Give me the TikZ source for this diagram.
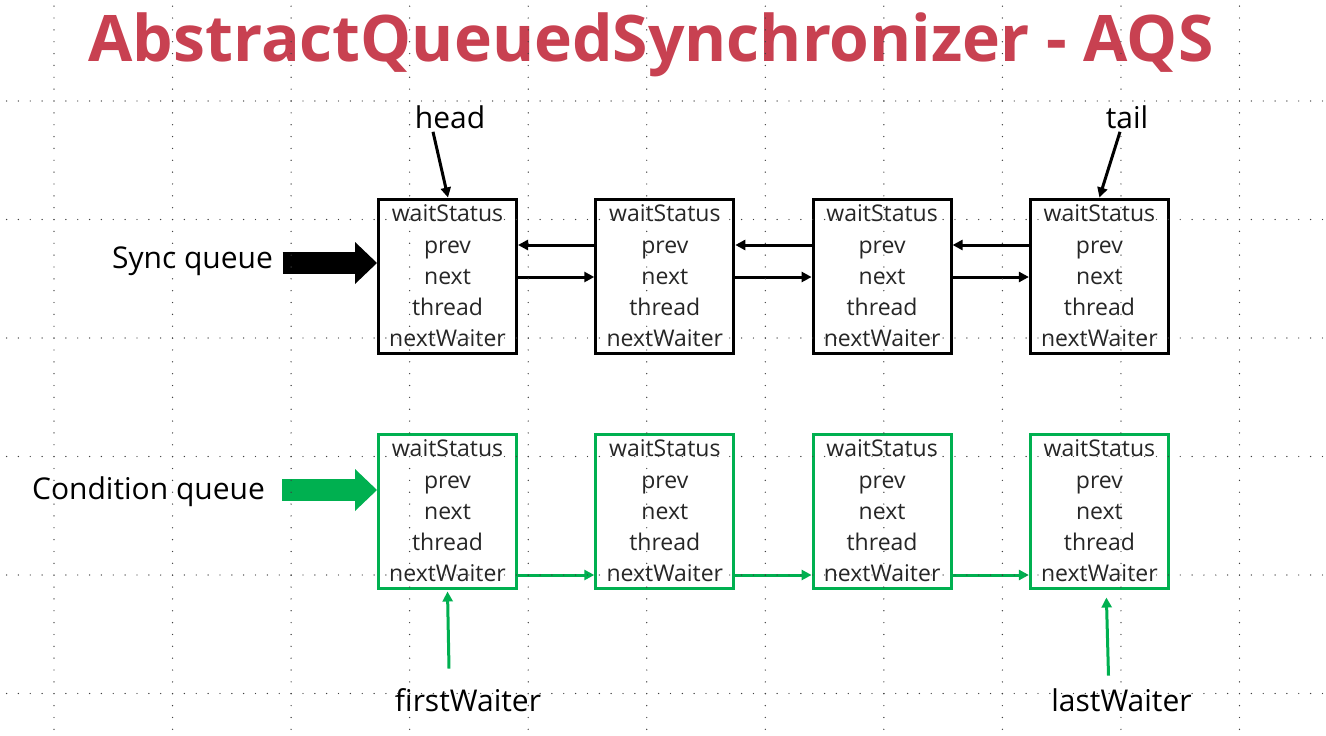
\documentclass[tikz,border=0pt]{standalone}
\usepackage{fontspec}
\setmainfont{Open Sans}
\usetikzlibrary{positioning}
\usetikzlibrary{arrows.meta}
\definecolor{aqsred}{RGB}{200,65,81}
\definecolor{aqsgreen}{RGB}{0,176,80}

\tikzset{
  field/.style={draw, line width=3pt, minimum width=138pt, minimum height=154pt,
    inner sep=0pt, align=center, text=black!85, font=\fontsize{23}{31.3}\selectfont},
  sync/.style={field, draw=black},
  cond/.style={field, draw=aqsgreen},
  lbl/.style={font=\fontsize{30}{36}\selectfont, anchor=base},
  ptr/.style={-{Triangle[length=10pt,width=10pt]}, line width=3pt},
  gptr/.style={ptr, color=aqsgreen},
  fat/.style={line width=22pt, -{Triangle[length=22pt,width=42pt,line width=0pt]}},
}
\newcommand{\aqsfields}{waitStatus\\prev\\next\\thread\\nextWaiter}

\begin{document}
\begin{tikzpicture}[x=1pt,y=-1pt,node distance=217.3pt,on grid]
   \path[fill=white,use as bounding box] (0,0) rectangle (1326,736);

   \node[font=\fontsize{64.2}{70}\selectfont\bfseries, text=aqsred, anchor=base] (title)
     at (651,61) {AbstractQueuedSynchronizer - AQS};

   % sync queue
   \node[sync] (s1) at (447.5,276) {\aqsfields};
   \node[sync] (s2) [right=of s1] {\aqsfields};
   \node[sync] (s3) [right=of s2] {\aqsfields};
   \node[sync] (s4) [right=of s3] {\aqsfields};
   % condition queue
   \node[cond] (c1) [below=235pt of s1] {\aqsfields};
   \node[cond] (c2) [right=of c1] {\aqsfields};
   \node[cond] (c3) [right=of c2] {\aqsfields};
   \node[cond] (c4) [right=of c3] {\aqsfields};

   \node[lbl] (head) at (450,128) {head};
   \node[lbl] (tail) at (1127,128) {tail};
   \node[lbl] (sq) at (192.5,268) {Sync queue};
   \node[lbl] (cq) at (148.5,499) {Condition queue};
   \node[lbl] (fw) at (468,711) {firstWaiter};
   \node[lbl] (lw) at (1121.5,711) {lastWaiter};

   \coordinate (sqend) at ([yshift=13pt]s1.west);
   \coordinate (cqend) at ([yshift=21pt]c1.west);
   \draw[fat, shorten <=6pt] (sq.east |- sqend) -- (sqend);
   \draw[fat, shorten <=14pt, aqsgreen] (cq.east |- cqend) -- (cqend);

    \path[ptr]
    ([xshift=-17pt]head.south) edge ([xshift=0.5pt]s1.north)
    ([xshift=-7pt]tail.south) edge (s4.north)
    ([yshift=31pt]s2.west) edge ([yshift=31pt]s1.east)
    ([yshift=-1pt]s1.east) edge ([yshift=-1pt]s2.west)
    ([yshift=31pt]s3.west) edge ([yshift=31pt]s2.east)
    ([yshift=-1pt]s2.east) edge ([yshift=-1pt]s3.west)
    ([yshift=31pt]s4.west) edge ([yshift=31pt]s3.east)
    ([yshift=-1pt]s3.east) edge ([yshift=-1pt]s4.west)
    ;
    \path[gptr]
    ([yshift=-64pt]c1.east) edge ([yshift=-64pt]c2.west)
    ([yshift=-64pt]c2.east) edge ([yshift=-64pt]c3.west)
    ([yshift=-64pt]c3.east) edge ([yshift=-64pt]c4.west)
    ([xshift=-19pt,yshift=16pt]fw.north) edge ([yshift=-2pt]c1.south)
    ([xshift=-13pt,yshift=9pt]lw.north) edge ([xshift=7pt,yshift=-8pt]c4.south)
    ;

   % guide grid
   \foreach \i in {0,...,10}
     \foreach \j in {-8,...,53}
       \fill[black!75] (54+118.55*\i,101+11.855*\j) circle (0.7);
   \foreach \r in {0,...,5}
     \foreach \j in {-4,...,107}
       \fill[black!75] (54+11.855*\j,101+118.5*\r) circle (0.7);
\end{tikzpicture}
\end{document}
